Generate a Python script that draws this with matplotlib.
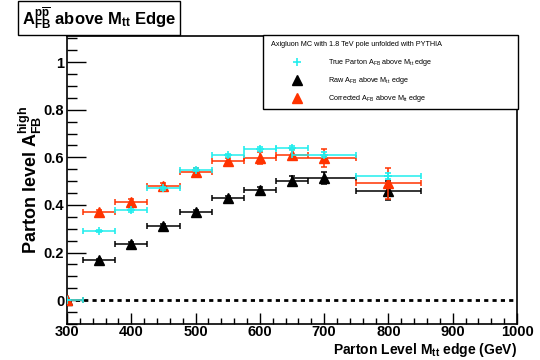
import matplotlib
matplotlib.use("Agg")
import matplotlib.pyplot as plt
from matplotlib.lines import Line2D
from matplotlib.patches import Rectangle
from matplotlib.ticker import MultipleLocator, FuncFormatter

plt.rcParams['font.family'] = ['Liberation Sans', 'DejaVu Sans']
plt.rcParams['mathtext.fontset'] = 'custom'
plt.rcParams['mathtext.rm'] = 'Liberation Sans:bold'
plt.rcParams['mathtext.it'] = 'Liberation Sans:bold'
plt.rcParams['mathtext.bf'] = 'Liberation Sans:bold'

# ---- data ----
mtt_edge = [300, 350, 400, 450, 500, 550, 600, 650, 700, 800]
mtt_err = [25, 25, 25, 25, 25, 25, 25, 25, 50, 50]
raw_afb = [0.0, 0.169, 0.236, 0.312, 0.371, 0.428, 0.464, 0.502, 0.512, 0.460]
raw_err = [0.0, 0.006, 0.007, 0.008, 0.009, 0.010, 0.012, 0.018, 0.025, 0.040]
corr_afb = [0.0, 0.370, 0.414, 0.481, 0.540, 0.583, 0.597, 0.612, 0.598, 0.491]
corr_err = [0.0, 0.008, 0.010, 0.012, 0.014, 0.015, 0.025, 0.025, 0.037, 0.064]
true_afb = [0.0, 0.289, 0.377, 0.470, 0.548, 0.608, 0.636, 0.639, 0.612, 0.523]
true_err = [0.0, 0.004, 0.005, 0.006, 0.007, 0.008, 0.009, 0.010, 0.010, 0.012]

legend_header = 'Axigluon MC with 1.8 TeV pole unfolded with PYTHIA'
legend_labels = [
    r'True Parton A$_{\mathregular{FB}}$ above M$_{\mathregular{tt}}$ edge',
    r'Raw A$_{\mathregular{FB}}$ above M$_{\mathregular{tt}}$ edge',
    r'Corrected A$_{\mathregular{FB}}$ above M$_{\mathregular{tt}}$ edge',
]

black = '#000000'
red = '#ff3300'
cyan = '#22eeee'

W, H = 540, 360
def fx(px):
    return px / W
def fy(py):
    return 1 - py / H

fig = plt.figure(figsize=(5.4, 3.6), dpi=100)
ax = fig.add_axes([fx(67), fy(324), 450/W, 288/H])

ax.axhline(0, color='black', lw=2.0, ls=(0, (1.5, 1.5)), zorder=1)

ax.errorbar(mtt_edge, raw_afb, xerr=mtt_err, yerr=raw_err, fmt='^', color=black,
            ms=7, lw=1.1, capsize=2, capthick=1.1, zorder=3)
ax.errorbar(mtt_edge, corr_afb, xerr=mtt_err, yerr=corr_err, fmt='^', color=red,
            ms=7, lw=1.1, capsize=2, capthick=1.1, zorder=4)
ax.errorbar(mtt_edge, true_afb, xerr=mtt_err, yerr=true_err, fmt='+', color=cyan,
            ms=6, mew=1.2, lw=1.1, capsize=2, capthick=1.1, zorder=5)

ax.set_xlim(300, 1000)
ax.set_ylim(-0.1, 1.11)
ax.xaxis.set_major_locator(MultipleLocator(100))
ax.xaxis.set_minor_locator(MultipleLocator(20))
ax.yaxis.set_major_locator(MultipleLocator(0.2))
ax.yaxis.set_minor_locator(MultipleLocator(0.05))
ax.yaxis.set_major_formatter(FuncFormatter(lambda v, p: f"{v:g}" if abs(v) > 1e-9 else "0"))
ax.tick_params(axis='both', which='both', direction='in', top=False, right=False)
ax.tick_params(axis='x', which='major', length=8, width=1, labelsize=10.5, pad=1)
ax.tick_params(axis='x', which='minor', length=4, width=1)
ax.tick_params(axis='y', which='major', length=14, width=1, labelsize=10.5, pad=2)
ax.tick_params(axis='y', which='minor', length=7, width=1)
for lab in ax.get_xticklabels() + ax.get_yticklabels():
    lab.set_fontweight('bold')
for s in ax.spines.values():
    s.set_linewidth(1.2)

fig.text(fx(517), fy(350), r'Parton Level M$_{\mathregular{tt}}$ edge (GeV)',
         ha='right', va='center', fontsize=10, fontweight='bold')
fig.text(fx(30), fy(180), r'Parton level A$_{\mathregular{FB}}^{\mathregular{high}}$',
         rotation=90, ha='center', va='center', fontsize=13, fontweight='bold')

# title box
fig.text(fx(22), fy(18), r'A$_{\mathregular{FB}}^{\mathregular{p\overline{p}}}$ above M$_{\mathregular{tt}}$ Edge',
         ha='left', va='center', fontsize=12, fontweight='bold',
         bbox=dict(boxstyle='square,pad=0.25', fc='white', ec='black', lw=1.0))

# legend (drawn as a ROOT-style TLegend box)
plt.rcParams['mathtext.rm'] = 'Liberation Sans'
plt.rcParams['mathtext.it'] = 'Liberation Sans'
box = Rectangle((fx(263), fy(109)), (518-263)/W, (109-35)/H, transform=fig.transFigure,
                fc='white', ec='black', lw=1.0, zorder=10)
fig.add_artist(box)
fig.text(fx(271), fy(45), legend_header, ha='left', va='center', fontsize=5.2, zorder=11)
leg_markers = [dict(marker='+', color=cyan, ms=6, mew=1.2),
               dict(marker='^', color=black, ms=7),
               dict(marker='^', color=red, ms=7)]
for i, (lab, mk) in enumerate(zip(legend_labels, leg_markers)):
    yy = fy(62 + 18 * i)
    fig.add_artist(Line2D([fx(297)], [yy], ls='none', transform=fig.transFigure, zorder=11, **mk))
    fig.text(fx(328), yy, lab, ha='left', va='center', fontsize=5.2, zorder=11)

fig.savefig('out.png', dpi=100)
